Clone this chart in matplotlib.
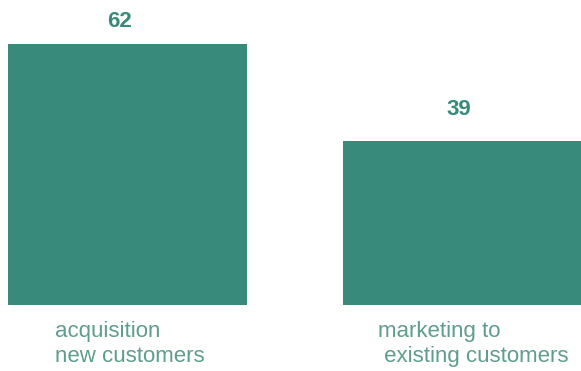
import matplotlib
matplotlib.use("Agg")
import matplotlib.pyplot as plt

# Spend split
categories = ["acquisition\nnew customers", "marketing to\n existing customers"]
values = [62, 39]
positions = [0, 1]

bar_color = "#388a7a"
label_color = "#5f9d8f"

# text offsets in pixels relative to each bar's top / base centre
value_offsets = [(-8.5, 22), (-4, 31)]
caption_offsets = [(-73, -16), (-85, -16)]

plt.rcParams["font.family"] = ["Liberation Sans", "DejaVu Sans"]

fig = plt.figure(figsize=(5.81, 3.71), dpi=100)
ax = fig.add_axes([0, 0, 1, 1])

bars = ax.bar(positions, values, width=0.713, color=bar_color)

# value above each bar
for pos, val, off in zip(positions, values, value_offsets):
    ax.annotate(str(val), xy=(pos, val), xytext=off, textcoords="offset pixels",
                ha="center", va="center", fontsize=16, fontweight="bold",
                color=bar_color)

# category captions under the bars
for pos, cat, off in zip(positions, categories, caption_offsets):
    ax.annotate(cat, xy=(pos, 0), xytext=off, textcoords="offset pixels",
                ha="left", va="top", fontsize=16, color=label_color,
                linespacing=1.25)

ax.set_xlim(-0.3806, 1.3537)
ax.set_ylim(-15.68, 72.45)
ax.axis("off")

fig.savefig("out.png", dpi=100)
